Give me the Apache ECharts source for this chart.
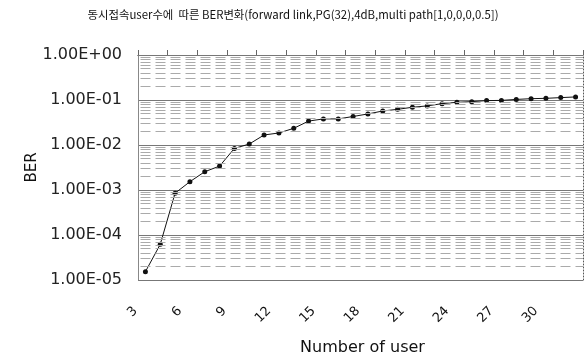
<!DOCTYPE html>
<html><head><meta charset="utf-8">
<script src="https://cdn.jsdelivr.net/npm/echarts@6/dist/echarts.min.js"></script>
<style>html,body{margin:0;padding:0;background:#fff}#c{width:586px;height:356px}</style>
</head><body><div id="c"></div>
<script>
const titleText = '동시접속user수에  따른 BER변화(forward link,PG(32),4dB,multi path[1,0,0,0,0.5])';
const categories = ['3','4','5','6','7','8','9','10','11','12','13','14','15','16','17','18','19','20','21','22','23','24','25','26','27','28','29','30','31','32'];
const ber = [1.53e-5, 6.2e-5, 8.5e-4, 1.53e-3, 2.55e-3, 3.4e-3, 8.4e-3, 1.05e-2, 1.67e-2, 1.85e-2, 2.35e-2, 3.4e-2, 3.8e-2, 3.8e-2, 4.3e-2, 4.9e-2, 5.7e-2, 6.2e-2, 6.9e-2, 7.4e-2, 8.3e-2, 8.9e-2, 9.2e-2, 9.7e-2, 9.8e-2, 0.103, 0.107, 0.109, 0.113, 0.117];
const yTickValues = [1e-5, 1e-4, 1e-3, 1e-2, 1e-1, 1];
const yTickLabels = ['1.00E-05','1.00E-04','1.00E-03','1.00E-02','1.00E-01','1.00E+00'];
const gridDecadeExponents = [-5, -4, -3, -2, -1];
const gridMantissas = [2,3,4,5,6,7,8,9];

// minor gridlines drawn on a hidden linear axis holding log10 of the gridline value
const minorLines = [];
gridDecadeExponents.forEach(e => gridMantissas.forEach(m => minorLines.push({yAxis: e + Math.log10(m)})));

function yLabel(v){
  let best = 0, bd = Infinity;
  yTickValues.forEach((t,i)=>{const dd=Math.abs(Math.log10(t)-Math.log10(v)); if(dd<bd){bd=dd;best=i;}});
  return bd < 0.01 ? yTickLabels[best] : '';
}

const chart = echarts.init(document.getElementById('c'));
chart.setOption({
  animation:false,
  title:{text:titleText,left:'center',top:4,padding:[5,5,5,13],textStyle:{fontFamily:'Noto Sans CJK KR',fontSize:11.4,fontWeight:'normal',color:'#111'}},
  grid:{left:138,right:3,top:55,bottom:76,containLabel:false,outerBoundsMode:'none'},
  xAxis:[{
    type:'category',data:categories,position:'bottom',boundaryGap:true,
    name:'Number of user',nameLocation:'middle',nameGap:60,nameMoveOverlap:false,
    nameTextStyle:{fontFamily:'DejaVu Sans',fontSize:16,color:'#111',padding:[0,0,0,4]},
    axisLine:{show:true,lineStyle:{color:'#444',type:[1,2],width:1}},
    axisTick:{show:false},
    axisLabel:{interval:2,rotate:45,margin:19,padding:[0,14,0,0],fontFamily:'DejaVu Sans',fontSize:13,color:'#111'},
    splitLine:{show:false}
  },{
    type:'category',data:categories,position:'top',boundaryGap:true,
    axisLine:{show:true,lineStyle:{color:'#777',width:1}},
    axisTick:{show:true,inside:false,length:5,lineStyle:{color:'#666'}},
    axisLabel:{show:false},splitLine:{show:false}
  }],
  yAxis:[{
    type:'log',logBase:10,min:1e-5,max:1,interval:1,position:'left',
    name:'BER',nameLocation:'middle',nameGap:98,nameRotate:90,nameMoveOverlap:false,
    nameTextStyle:{fontFamily:'DejaVu Sans',fontSize:15,color:'#111'},
    axisLine:{show:true,lineStyle:{color:'#888',width:1}},
    axisTick:{show:false},
    axisLabel:{formatter:yLabel,margin:16,fontFamily:'DejaVu Sans',fontSize:16,color:'#222'},
    splitLine:{show:true,lineStyle:{color:'#777',width:1,type:'solid'}},
    minorTick:{show:false},minorSplitLine:{show:false}
  },{
    type:'log',logBase:10,min:1e-5,max:1,interval:1,position:'right',
    axisLine:{show:true,lineStyle:{color:'#555',type:[1,2],width:1}},
    axisTick:{show:false},axisLabel:{show:false},splitLine:{show:false}
  },{
    type:'value',min:-5,max:0,show:false,position:'left'
  }],
  series:[{
    type:'line',data:[],z:1,silent:true,yAxisIndex:2,
    markLine:{silent:true,symbol:['none','none'],precision:6,label:{show:false},animation:false,
      lineStyle:{color:'#aaa',width:1,type:[10,5],dashOffset:12.5},
      emphasis:{disabled:true},
      data:minorLines}
  },{
    type:'line',data:ber,z:3,
    symbol:'circle',symbolSize:5,
    lineStyle:{color:'#111',width:1},
    itemStyle:{color:'#111'}
  }]
});
</script></body></html>
